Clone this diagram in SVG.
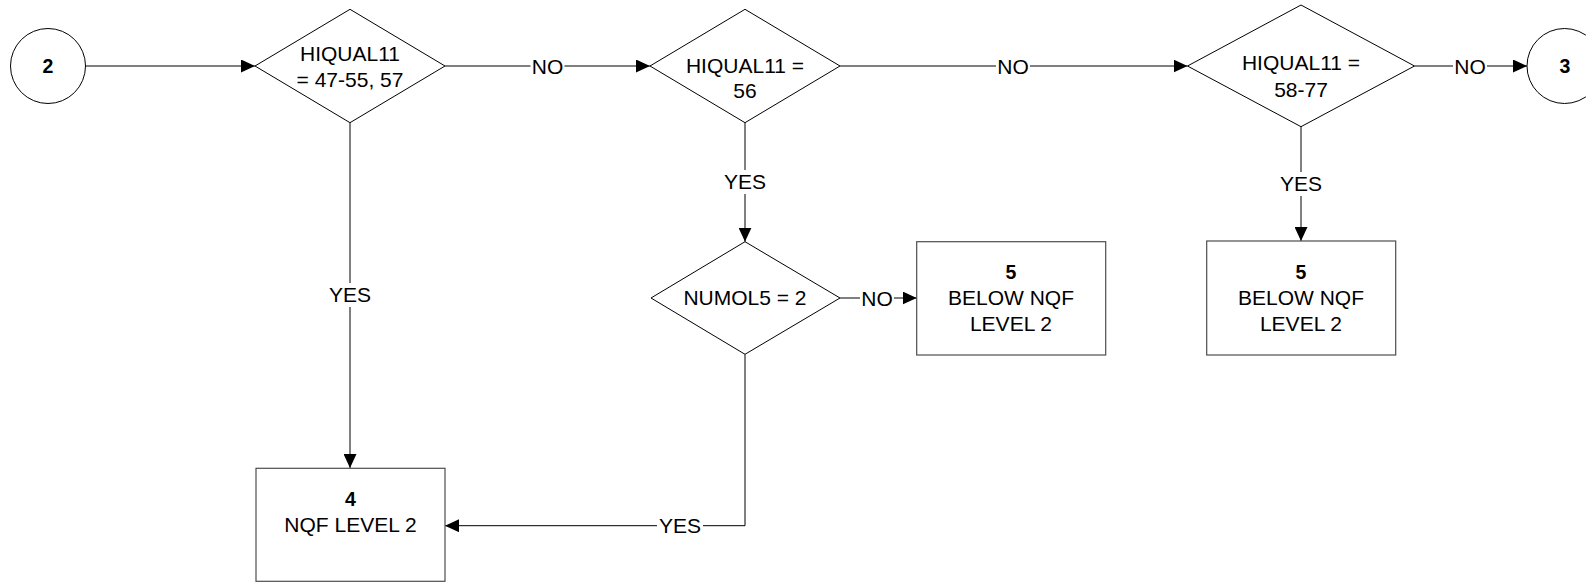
<svg xmlns="http://www.w3.org/2000/svg" width="1586" height="582" viewBox="0 0 1586 582">
<style>
.shape{fill:#fff;stroke:#000;stroke-width:1}
.box{fill:#fff;stroke:#4d4d4d;stroke-width:1.2}
.t{font-family:"Liberation Sans",Arial,sans-serif;font-size:21px;fill:#000;text-anchor:middle}
.b{font-family:"Liberation Sans",Arial,sans-serif;font-size:19.5px;font-weight:bold;fill:#000;text-anchor:middle}
.c{fill:none;stroke:#000;stroke-width:1}
.bg{fill:#fff;stroke:none}
</style>
<defs>
<marker id="arr" markerUnits="userSpaceOnUse" markerWidth="14" markerHeight="13" refX="14" refY="6.5" orient="auto">
<path d="M0,0 L14,6.5 L0,13 z" fill="#000"/>
</marker>
</defs>
<rect width="1586" height="582" fill="#fff"/>
<g id="connectors">
<path class="c" d="M85.5,66 H255" marker-end="url(#arr)"/>
<path class="c" d="M445,66 H650" marker-end="url(#arr)"/>
<path class="c" d="M840,66 H1187.5" marker-end="url(#arr)"/>
<path class="c" d="M1414.5,66 H1527" marker-end="url(#arr)"/>
<path class="c" d="M350,122.7 V468" marker-end="url(#arr)"/>
<path class="c" d="M745,122.7 V241.7" marker-end="url(#arr)"/>
<path class="c" d="M840,298 H916.7" marker-end="url(#arr)"/>
<path class="c" d="M1301,126.7 V241" marker-end="url(#arr)"/>
<path class="c" d="M745,354.3 V525.7 H445" marker-end="url(#arr)"/>
<rect class="bg" x="530.5" y="56" width="34" height="20"/>
<text class="t" x="547.5" y="73.5">NO</text>
<rect class="bg" x="996" y="56" width="34" height="20"/>
<text class="t" x="1013" y="73.5">NO</text>
<rect class="bg" x="1453" y="56" width="34" height="20"/>
<text class="t" x="1470" y="73.5">NO</text>
<rect class="bg" x="860" y="288" width="34" height="20"/>
<text class="t" x="877" y="305.8">NO</text>
<rect class="bg" x="327" y="283" width="46" height="24"/>
<text class="t" x="350" y="301.7">YES</text>
<rect class="bg" x="722" y="170" width="46" height="24"/>
<text class="t" x="745" y="189">YES</text>
<rect class="bg" x="1278" y="172" width="46" height="24"/>
<text class="t" x="1301" y="191">YES</text>
<rect class="bg" x="657" y="514" width="46" height="22"/>
<text class="t" x="680" y="532.5">YES</text>
</g>
<g id="start2">
<circle class="shape" cx="48" cy="66" r="37.5"/>
<text class="b" x="48" y="72.5">2</text>
</g>
<g id="d1">
<polygon class="shape" points="255,66 350,9.3 445,66 350,122.7"/>
<text class="t" x="350" y="61">HIQUAL11</text>
<text class="t" x="350" y="86.5">= 47-55, 57</text>
</g>
<g id="d2">
<polygon class="shape" points="650,66 745,9.3 840,66 745,122.7"/>
<text class="t" x="745" y="72.5">HIQUAL11 =</text>
<text class="t" x="745" y="98">56</text>
</g>
<g id="d3">
<polygon class="shape" points="1187.5,66 1301,5 1414.5,66 1301,126.7"/>
<text class="t" x="1301" y="70">HIQUAL11 =</text>
<text class="t" x="1301" y="96.7">58-77</text>
</g>
<g id="end3">
<circle class="shape" cx="1564.5" cy="66" r="37.5"/>
<text class="b" x="1565" y="72.5">3</text>
</g>
<g id="d4">
<polygon class="shape" points="651,298 745,241.7 840,298 745,354.3"/>
<text class="t" x="745" y="305">NUMOL5 = 2</text>
</g>
<g id="box5a">
<rect class="box" x="916.7" y="241.7" width="189" height="113.3"/>
<text class="b" x="1011" y="279.3">5</text>
<text class="t" x="1011" y="305">BELOW NQF</text>
<text class="t" x="1011" y="330.7">LEVEL 2</text>
</g>
<g id="box5b">
<rect class="box" x="1206.7" y="241" width="189" height="114"/>
<text class="b" x="1301" y="279.3">5</text>
<text class="t" x="1301" y="305">BELOW NQF</text>
<text class="t" x="1301" y="330.7">LEVEL 2</text>
</g>
<g id="box4">
<rect class="box" x="256" y="468.3" width="189" height="113"/>
<text class="b" x="350.5" y="506">4</text>
<text class="t" x="350.5" y="531.5">NQF LEVEL 2</text>
</g>
</svg>
